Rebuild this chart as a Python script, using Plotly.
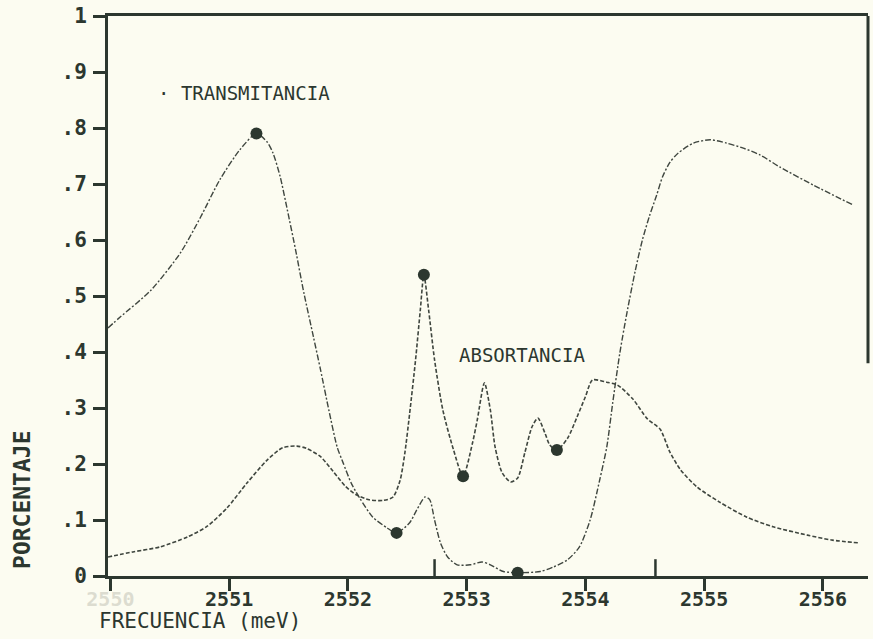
"""
Transmitancia / absortancia vs frecuencia
"""
import plotly.graph_objects as go

# transmittance curve (frequency in meV, fraction)
trans_freq = [2549.98, 2550.08, 2550.34, 2550.59, 2550.76, 2550.92, 2551.09, 2551.23,
              2551.32, 2551.37, 2551.43, 2551.49, 2551.56, 2551.63, 2551.71, 2551.77,
              2551.84, 2551.91, 2551.96, 2552.03, 2552.10, 2552.21, 2552.33, 2552.41,
              2552.52, 2552.58, 2552.65, 2552.69, 2552.73, 2552.78, 2552.84, 2552.92,
              2553.03, 2553.13, 2553.20, 2553.31, 2553.43, 2553.62, 2553.73, 2553.85,
              2553.95, 2554.04, 2554.12, 2554.18, 2554.23, 2554.29, 2554.35, 2554.42,
              2554.48, 2554.54, 2554.60, 2554.65, 2554.71, 2554.78, 2554.91, 2555.05,
              2555.19, 2555.33, 2555.47, 2555.64, 2555.92, 2556.25]
trans_vals = [0.443, 0.462, 0.510, 0.577, 0.641, 0.707, 0.761, 0.790,
              0.775, 0.755, 0.713, 0.654, 0.582, 0.505, 0.427, 0.368,
              0.296, 0.230, 0.202, 0.165, 0.139, 0.105, 0.086, 0.077,
              0.095, 0.118, 0.141, 0.136, 0.100, 0.059, 0.034, 0.020,
              0.020, 0.025, 0.020, 0.008, 0.006, 0.008, 0.016, 0.029,
              0.052, 0.100, 0.171, 0.230, 0.309, 0.398, 0.470, 0.545,
              0.600, 0.643, 0.680, 0.713, 0.738, 0.755, 0.773, 0.779,
              0.773, 0.764, 0.752, 0.730, 0.698, 0.663]

# absorptance curve
abs_freq = [2549.98, 2550.19, 2550.42, 2550.65, 2550.81, 2550.98, 2551.15, 2551.32,
            2551.45, 2551.57, 2551.65, 2551.77, 2551.875, 2551.98, 2552.07, 2552.18,
            2552.30, 2552.38, 2552.44, 2552.48, 2552.52, 2552.57, 2552.61, 2552.64,
            2552.68, 2552.73, 2552.80, 2552.89, 2552.97, 2553.05, 2553.09, 2553.15,
            2553.20, 2553.24, 2553.30, 2553.37, 2553.43, 2553.49, 2553.55, 2553.60,
            2553.66, 2553.70, 2553.76, 2553.85, 2553.93, 2554.00, 2554.06, 2554.18,
            2554.27, 2554.40, 2554.52, 2554.63, 2554.71, 2554.80, 2554.94, 2555.13,
            2555.36, 2555.58, 2555.87, 2556.08, 2556.31]
abs_vals = [0.034, 0.043, 0.052, 0.070, 0.088, 0.121, 0.166, 0.207,
            0.229, 0.232, 0.228, 0.213, 0.187, 0.160, 0.145, 0.136,
            0.135, 0.141, 0.171, 0.220, 0.290, 0.386, 0.475, 0.538,
            0.475, 0.386, 0.296, 0.225, 0.178, 0.238, 0.279, 0.345,
            0.296, 0.230, 0.184, 0.168, 0.175, 0.220, 0.266, 0.282,
            0.255, 0.234, 0.225, 0.246, 0.284, 0.320, 0.350, 0.346,
            0.341, 0.316, 0.281, 0.262, 0.222, 0.190, 0.159, 0.132,
            0.105, 0.088, 0.073, 0.064, 0.059]

# highlighted points
trans_dot_freq = [2551.23, 2552.41, 2553.43]
trans_dot_vals = [0.790, 0.077, 0.006]
abs_dot_freq = [2552.64, 2552.97, 2553.76]
abs_dot_vals = [0.538, 0.178, 0.225]

# axis ticks
x_ticks = [2550, 2551, 2552, 2553, 2554, 2555, 2556]
x_labels = ["<span style='color:#dcdcd0'>2550</span>", "2551", "2552", "2553",
            "2554", "2555", "2556"]
y_ticks = [0, 0.1, 0.2, 0.3, 0.4, 0.5, 0.6, 0.7, 0.8, 0.9, 1]
y_labels = ["0", ".1", ".2", ".3", ".4", ".5", ".6", ".7", ".8", ".9", "1"]
inner_ticks = [2552.73, 2554.59]

INK = "#2c372f"
CURVE = "#3f463f"
BG = "#fcfcf1"
FONT = "DejaVu Sans Mono"

fig = go.Figure()

fig.add_trace(go.Scatter(
    x=trans_freq, y=trans_vals, mode='lines',
    line=dict(color=CURVE, width=1.4, dash='6px,2px,2px,2px', shape='spline', smoothing=0.7),
    hoverinfo='skip'
))
fig.add_trace(go.Scatter(
    x=abs_freq, y=abs_vals, mode='lines',
    line=dict(color=CURVE, width=1.6, dash='4px,2px', shape='spline', smoothing=0.7),
    hoverinfo='skip'
))
fig.add_trace(go.Scatter(
    x=trans_dot_freq + abs_dot_freq, y=trans_dot_vals + abs_dot_vals, mode='markers',
    marker=dict(color=INK, size=12),
    hoverinfo='skip'
))

# small upward ticks on the frequency axis
for xv in inner_ticks:
    fig.add_shape(type='line', xref='x', yref='paper', x0=xv, x1=xv, y0=0, y1=0.03,
                  line=dict(color=INK, width=2.5))

# right side of frame (only partially visible in the scan)
fig.add_shape(type='line', xref='paper', yref='paper', x0=1, x1=1, y0=0.38, y1=1,
              line=dict(color=INK, width=3))

fig.add_annotation(x=2550.385, y=0.8625, xref='x', yref='y', xanchor='left', yanchor='middle',
                   text="· TRANSMITANCIA", showarrow=False,
                   font=dict(family=FONT, size=19, color=INK))
fig.add_annotation(x=2552.92, y=0.395, xref='x', yref='y', xanchor='left', yanchor='middle',
                   text="ABSORTANCIA", showarrow=False,
                   font=dict(family=FONT, size=19, color=INK))
fig.add_annotation(x=-0.113, y=0.136, xref='paper', yref='paper', textangle=-90,
                   xanchor='center', yanchor='middle',
                   text="PORCENTAJE", showarrow=False,
                   font=dict(family=FONT, size=23, color=INK, weight='bold'))
fig.add_annotation(x=-0.0145, y=-0.080, xref='paper', yref='paper',
                   xanchor='left', yanchor='middle',
                   text="FRECUENCIA (meV)", showarrow=False,
                   font=dict(family=FONT, size=21, color=INK))

fig.update_layout(
    width=873, height=639,
    margin=dict(l=108, r=5, t=16, b=63),
    paper_bgcolor=BG, plot_bgcolor=BG,
    showlegend=False,
    xaxis=dict(
        range=[2549.98, 2556.38], showgrid=False, zeroline=False,
        showline=True, linecolor=INK, linewidth=3, mirror=True,
        tickmode='array', tickvals=x_ticks, ticktext=x_labels,
        ticks='outside', ticklen=12, tickwidth=2.5, tickcolor=INK,
        ticklabelstandoff=-9,
        tickfont=dict(family=FONT, size=20, color=INK, weight='bold'),
    ),
    yaxis=dict(
        range=[0, 1], showgrid=False, zeroline=False,
        showline=True, linecolor=INK, linewidth=3,
        tickmode='array', tickvals=y_ticks, ticktext=y_labels,
        ticks='outside', ticklen=12, tickwidth=2.5, tickcolor=INK,
        ticklabelstandoff=2,
        tickfont=dict(family=FONT, size=21, color=INK, weight='bold'),
    ),
)

fig.write_html("out.html", config={'displayModeBar': False},
               post_script="document.body.style.margin='0';")
